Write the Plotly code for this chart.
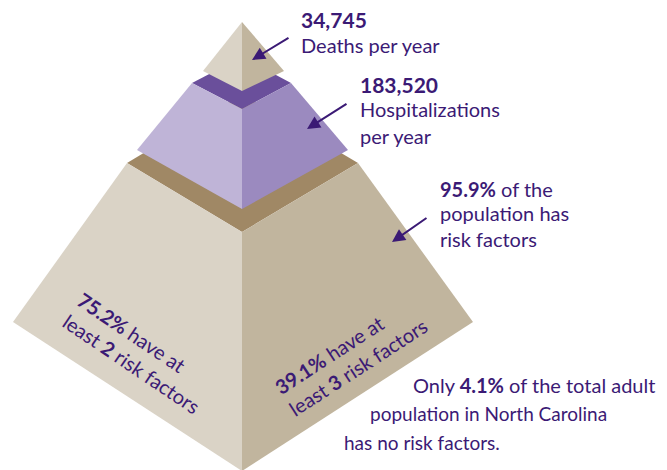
import plotly.graph_objects as go

# ---- data (text content of the infographic) ----
deaths_value = "34,745"
deaths_label = "Deaths per year"
hosp_value = "183,520"
hosp_label = ["Hospitalizations", "per year"]
risk_pct = "95.9%"
risk_label = ["of the", "population has", "risk factors"]
two_pct = "75.2%"
three_pct = "39.1%"
none_pct = "4.1%"

# ---- pyramid geometry (pixel space, y grows downward) ----
# bottom tier (frustum)
bot_top = dict(left=(127, 163), front=(242, 232), right=(358, 163), back=(242, 94))
bot_base = dict(left=(13, 322), front=(242, 471), right=(473, 322))
# middle tier (frustum)
mid_top = dict(left=(192, 83), front=(242, 109), right=(291, 83), back=(242, 57))
mid_base = dict(left=(137, 150), front=(242, 209), right=(348, 150))
# top tier (pyramid)
top_apex = (242, 22)
top_base = dict(left=(203, 71), front=(242, 91), right=(284, 71))

C_LIGHT = "#dad3c6"
C_DARK = "#c1b59e"
C_BROWN = "#a08865"
C_PURP_L = "#bfb4d7"
C_PURP_R = "#9b8abf"
C_PURP_TOP = "#6a4f9b"
C_TEXT = "#3b1a75"

polys = [
    ([bot_top["left"], bot_top["back"], bot_top["right"], bot_top["front"]], C_BROWN),
    ([bot_top["left"], bot_top["front"], bot_base["front"], bot_base["left"]], C_LIGHT),
    ([bot_top["front"], bot_top["right"], bot_base["right"], bot_base["front"]], C_DARK),
    ([mid_top["left"], mid_top["back"], mid_top["right"], mid_top["front"]], C_PURP_TOP),
    ([mid_top["left"], mid_top["front"], mid_base["front"], mid_base["left"]], C_PURP_L),
    ([mid_top["front"], mid_top["right"], mid_base["right"], mid_base["front"]], C_PURP_R),
    ([top_apex, top_base["left"], top_base["front"]], C_LIGHT),
    ([top_apex, top_base["right"], top_base["front"]], C_DARK),
]

fig = go.Figure()
for pts, col in polys:
    xs = [p[0] for p in pts] + [pts[0][0]]
    ys = [p[1] for p in pts] + [pts[0][1]]
    fig.add_trace(go.Scatter(x=xs, y=ys, mode="lines", fill="toself",
                             fillcolor=col, line=dict(width=0, color=col),
                             hoverinfo="skip", showlegend=False))

FONT = "Lato"
FS = 20
ann = []

def txt(x, y, text, anchor="left", angle=0, size=FS):
    ann.append(dict(x=x, y=y, xref="x", yref="y", text=text, showarrow=False,
                    xanchor=anchor, yanchor="middle", align="left", textangle=angle,
                    font=dict(family=FONT, size=size, color=C_TEXT)))

def arrow(x0, y0, x1, y1):
    ann.append(dict(x=x1, y=y1, ax=x0, ay=y0, xref="x", yref="y", axref="x", ayref="y",
                    text="", showarrow=True, arrowhead=2, arrowsize=1.3, arrowwidth=2,
                    arrowcolor=C_TEXT))

txt(299, 19, f"<b>{deaths_value}</b>", size=21)
txt(299, 45, deaths_label)
txt(358, 84, f"<b>{hosp_value}</b>", size=21)
txt(358, 109, hosp_label[0])
txt(358, 136, hosp_label[1])
txt(438, 189, f"<b>{risk_pct}</b> {risk_label[0]}")
txt(438, 213, risk_label[1])
txt(438, 239, risk_label[2])

txt(139, 353, f"<b>{two_pct}</b> have at<br>least <b>2</b> risk factors", anchor="center", angle=34)
txt(351, 356, f"<b>{three_pct}</b> have at<br>least <b>3</b> risk factors", anchor="center", angle=-33)

txt(411, 385, f"Only <b>{none_pct}</b> of the total adult")
txt(368, 413, "population in North Carolina", size=19)
txt(342, 442, "has no risk factors.", size=19)

arrow(290, 37, 252, 60)
arrow(348, 103, 307, 129)
arrow(428, 217, 392, 242)

fig.update_layout(
    width=667, height=470, margin=dict(l=0, r=0, t=0, b=0),
    paper_bgcolor="white", plot_bgcolor="white",
    xaxis=dict(range=[0, 667], visible=False, fixedrange=True),
    yaxis=dict(range=[470, 0], visible=False, fixedrange=True),
    annotations=ann, showlegend=False,
)
fig.write_html("out.html", config={"displayModeBar": False})
